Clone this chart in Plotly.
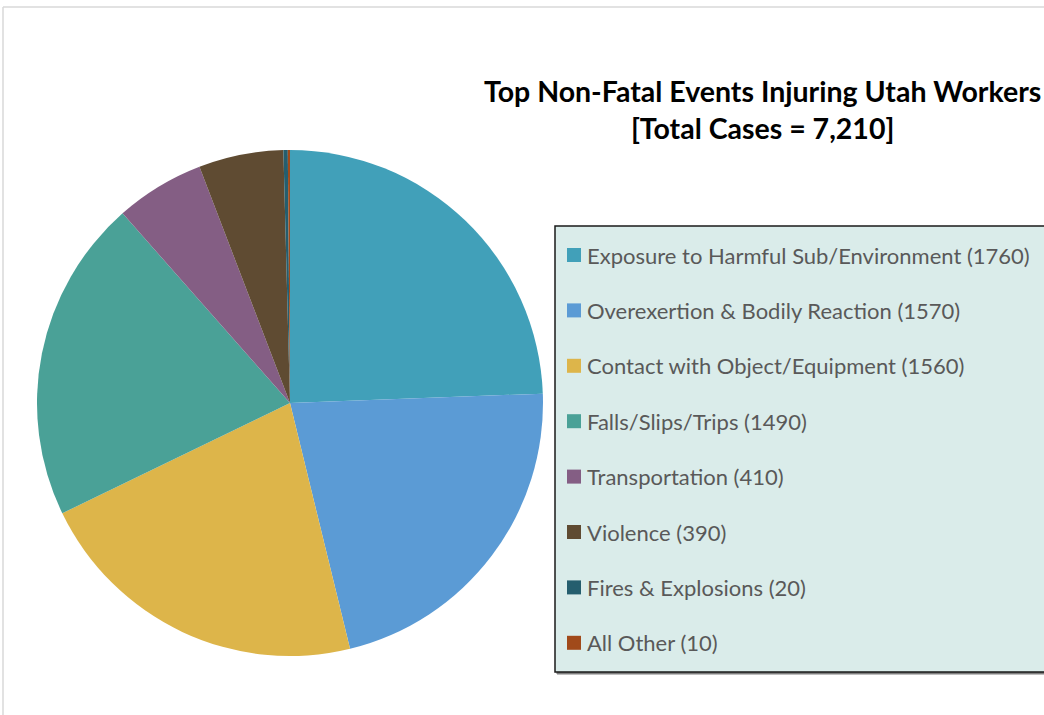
import plotly.graph_objects as go

categories = ["Exposure to Harmful Sub/Environment", "Overexertion & Bodily Reaction",
              "Contact with Object/Equipment", "Falls/Slips/Trips", "Transportation",
              "Violence", "Fires & Explosions", "All Other"]
values = [1760, 1570, 1560, 1490, 410, 390, 20, 10]
colors = ["#41A0B9", "#5B9BD5", "#DDB54A", "#4AA197", "#845E84", "#5F4B32", "#255E6E", "#A14A1A"]
title_lines = ["Top Non-Fatal Events Injuring Utah Workers", "[Total Cases = 7,210]"]

W, H = 1044, 715
def px(x): return x / W
def py(y): return 1 - y / H

cx, cy, r = 290, 403, 253

fig = go.Figure(go.Pie(
    labels=categories, values=values, sort=False, direction="clockwise", rotation=0,
    marker=dict(colors=colors, line=dict(width=0)),
    textinfo="none", hoverinfo="label+value", showlegend=False,
    domain=dict(x=[px(cx - r), px(cx + r)], y=[py(cy + r), py(cy - r)]),
))

shapes = []
# outer chart border (top and left)
shapes.append(dict(type="line", xref="paper", yref="paper", x0=px(3), x1=px(1044), y0=py(7), y1=py(7),
                   line=dict(color="#D9D9D9", width=1.5)))
shapes.append(dict(type="line", xref="paper", yref="paper", x0=px(3), x1=px(3), y0=py(7), y1=py(715),
                   line=dict(color="#D9D9D9", width=1.5)))
# legend box shadow + box
shapes.append(dict(type="rect", xref="paper", yref="paper", x0=px(557), x1=px(1050), y0=py(228), y1=py(674),
                   line=dict(color="#7F7F7F", width=1), fillcolor="#7F7F7F", layer="below"))
shapes.append(dict(type="rect", xref="paper", yref="paper", x0=px(555), x1=px(1050), y0=py(226), y1=py(672),
                   line=dict(color="#1A1A1A", width=1.5), fillcolor="#DAECEA"))

annotations = []
y0, dy = 255, 55.4
for i, (cat, val, col) in enumerate(zip(categories, values, colors)):
    yc = y0 + i * dy
    shapes.append(dict(type="rect", xref="paper", yref="paper", x0=px(567), x1=px(581),
                       y0=py(yc + 7), y1=py(yc - 7), line=dict(width=0), fillcolor=col))
    annotations.append(dict(xref="paper", yref="paper", x=px(585), y=py(yc), xanchor="left", yanchor="middle",
                            text=f"{cat} ({val})", showarrow=False,
                            font=dict(family="Lato, sans-serif", size=22, color="#595959")))

annotations.append(dict(xref="paper", yref="paper", x=px(762), y=py(109), xanchor="center", yanchor="middle",
                        text="<b>" + title_lines[0] + "</b><br><b>" + title_lines[1] + "</b>",
                        showarrow=False,
                        font=dict(family="Lato, sans-serif", size=28.5, color="#000000")))

fig.update_layout(width=W, height=H, margin=dict(l=0, r=0, t=0, b=0),
                  paper_bgcolor="white", plot_bgcolor="white",
                  shapes=shapes, annotations=annotations)
fig.write_html("out.html", config={"displayModeBar": False},
               post_script="document.body.style.margin='0';")
